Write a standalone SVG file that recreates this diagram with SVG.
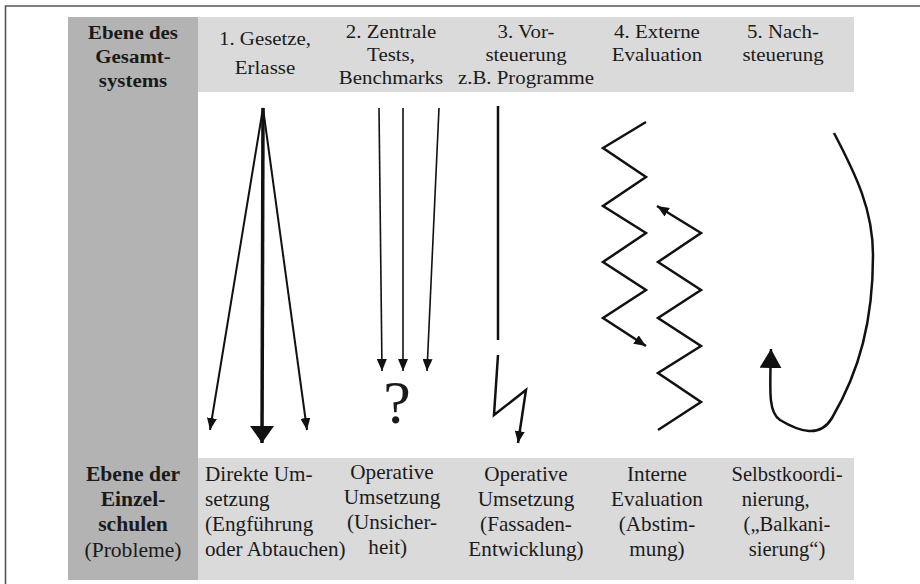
<svg xmlns="http://www.w3.org/2000/svg" width="920" height="584" viewBox="0 0 920 584">
<style>
text{font-family:"Liberation Serif","Times New Roman",serif;fill:#1a1a1a;text-anchor:middle}
.h{font-size:18px}
.hb{font-size:18px;font-weight:bold}
.b{font-size:20px}
.bb{font-size:20px;font-weight:bold}
.ln{fill:none;stroke:#111;stroke-linejoin:miter}
</style>
<defs>
<marker id="ah" viewBox="0 0 12 10" refX="12" refY="5" markerWidth="12" markerHeight="10" markerUnits="userSpaceOnUse" orient="auto"><path d="M0,0 L12,5 L0,10 Z" fill="#111"/></marker>
<marker id="ahL" viewBox="0 0 17 24" refX="17" refY="12" markerWidth="17" markerHeight="24" markerUnits="userSpaceOnUse" orient="auto"><path d="M0,0 L17,12 L0,24 Z" fill="#111"/></marker>
<marker id="ahC" viewBox="0 0 19 22" refX="19" refY="11" markerWidth="19" markerHeight="22" markerUnits="userSpaceOnUse" orient="auto"><path d="M0,0 L19,11 L0,22 Z" fill="#111"/></marker>
</defs>
<rect width="920" height="584" fill="#fff"/>
<g id="frame"><path d="M5.5,584 V6 H920" fill="none" stroke="#555" stroke-width="1.6"/></g>
<g id="bands">
<rect x="198" y="17" width="656" height="75" fill="#dadada"/>
<rect x="198" y="458" width="656" height="122" fill="#dadada"/>
<rect x="68" y="17" width="130" height="563" fill="#b3b3b3"/>
</g>
<g id="level-top">
<g transform="translate(133,0) scale(1.16,1)"><text class="hb" y="39">Ebene des</text><text class="hb" y="63">Gesamt-</text><text class="hb" y="87">systems</text></g>
</g>
<g id="h1"><g transform="translate(265,0) scale(1.16,1)"><text class="h" y="45">1. Gesetze,</text><text class="h" y="74">Erlasse</text></g></g>
<g id="h2"><g transform="translate(391,0) scale(1.16,1)"><text class="h" y="38">2. Zentrale</text><text class="h" y="61">Tests,</text><text class="h" y="84">Benchmarks</text></g></g>
<g id="h3"><g transform="translate(526,0) scale(1.16,1)"><text class="h" y="38">3. Vor-</text><text class="h" y="61">steuerung</text><text class="h" y="84">z.B. Programme</text></g></g>
<g id="h4"><g transform="translate(657,0) scale(1.16,1)"><text class="h" y="38">4. Externe</text><text class="h" y="61">Evaluation</text></g></g>
<g id="h5"><g transform="translate(783,0) scale(1.16,1)"><text class="h" y="38">5. Nach-</text><text class="h" y="61">steuerung</text></g></g>
<g id="level-bottom"><g transform="translate(133,0) scale(1.08,1)"><text class="bb" y="481">Ebene der</text><text class="bb" y="506">Einzel-</text><text class="bb" y="531">schulen</text><text class="b" y="557">(Probleme)</text></g></g>
<g id="b1"><g transform="translate(205,0) scale(1.06,1)"><text class="b" style="text-anchor:start" y="481">Direkte Um-</text><text class="b" style="text-anchor:start" y="506">setzung</text><text class="b" style="text-anchor:start" y="531">(Engführung</text><text class="b" style="text-anchor:start" y="556">oder Abtauchen)</text></g></g>
<g id="b2"><g transform="translate(392,0) scale(1.06,1)"><text class="b" y="479">Operative</text><text class="b" y="504">Umsetzung</text><text class="b" y="529">(Unsicher-</text><text class="b" x="-4" y="554">heit)</text></g></g>
<g id="b3"><g transform="translate(526,0) scale(1.06,1)"><text class="b" y="481">Operative</text><text class="b" y="506">Umsetzung</text><text class="b" y="531">(Fassaden-</text><text class="b" y="556">Entwicklung)</text></g></g>
<g id="b4"><g transform="translate(657,0) scale(1.06,1)"><text class="b" y="481">Interne</text><text class="b" y="506">Evaluation</text><text class="b" y="531">(Abstim-</text><text class="b" y="556">mung)</text></g></g>
<g id="b5"><g transform="translate(787,0) scale(1.03,1)"><text class="b" y="481">Selbstkoordi-</text><text class="b" x="-11" y="506">nierung,</text><text class="b" y="531">(„Balkani-</text><text class="b" y="556">sierung“)</text></g></g>
<g id="q"><text x="397" y="423" style="font-family:'Liberation Serif',serif;font-size:62px">?</text></g>
<g id="connectors">
<path class="ln" stroke-width="2" d="M263,108 L210,430" marker-end="url(#ah)"/>
<path class="ln" stroke-width="2" d="M263,108 L307,430" marker-end="url(#ah)"/>
<path class="ln" stroke-width="3.5" d="M263,108 L262,443" marker-end="url(#ahL)"/>
<path class="ln" stroke-width="1.6" d="M379,108 L382,371" marker-end="url(#ah)"/>
<path class="ln" stroke-width="1.6" d="M403,108 L403,371" marker-end="url(#ah)"/>
<path class="ln" stroke-width="1.6" d="M439,108 L427,371" marker-end="url(#ah)"/>
<path class="ln" stroke-width="2.5" d="M498,106 L498,340"/>
<path class="ln" stroke-width="2.5" d="M498,355 L494,415 L526,390 L518,443" marker-end="url(#ah)"/>
<path class="ln" stroke-width="2.5" d="M646,122 L603,148 L646,177 L603,206 L646,233 L603,262 L646,290 L603,318 L646,346" marker-end="url(#ah)"/>
<path class="ln" stroke-width="2.5" d="M658,430 L701,402 L658,373 L701,346 L658,318 L701,290 L658,262 L701,233 L657,206" marker-end="url(#ah)"/>
<path class="ln" stroke-width="2.5" d="M834,133 C856,175 873,210 873,255 C873,320 860,370 832,418 C820,438 800,432 780,420 C768,412 770,390 771,349" marker-end="url(#ahC)"/>
</g>
</svg>
